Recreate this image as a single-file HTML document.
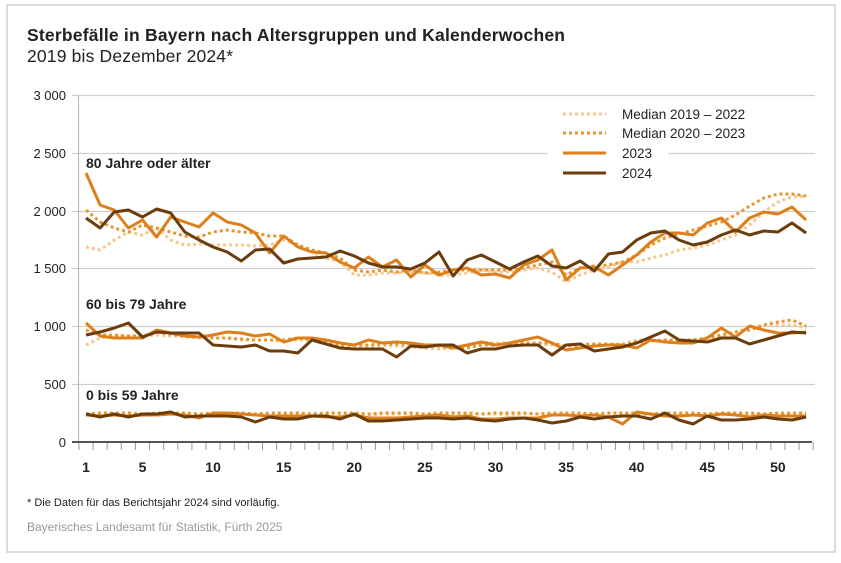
<!DOCTYPE html>
<html><head><meta charset="utf-8"><style>
body{margin:0;background:#fff;width:841px;height:558px;overflow:hidden;font-family:"Liberation Sans",Arial,sans-serif}
</style></head><body>
<svg id="s" width="841" height="558" xmlns="http://www.w3.org/2000/svg" font-family="Liberation Sans, Arial, sans-serif">
<rect x="7" y="5" width="828" height="547" fill="#fff" stroke="#d0d0d0" stroke-width="1.5"/>
<text x="27" y="41" font-size="17.5" font-weight="bold" fill="#222" textLength="538" lengthAdjust="spacing">Sterbefälle in Bayern nach Altersgruppen und Kalenderwochen</text>
<text x="27" y="62" font-size="17.5" fill="#222" textLength="206" lengthAdjust="spacing">2019 bis Dezember 2024*</text>
<g id="grid" stroke="#cfcfcf" stroke-width="1.2"></g>
<rect x="548" y="100" width="120" height="84" fill="#fff"/>
<g id="ylab" font-size="13" fill="#222" text-anchor="end"></g>
<g id="xt" stroke="#999" stroke-width="1"></g>
<line x1="78.5" y1="95" x2="78.5" y2="442" stroke="#bbb" stroke-width="1.2"/>
<line x1="72" y1="442" x2="812" y2="442" stroke="#555" stroke-width="2"/>
<g id="xlab" font-size="14" font-weight="bold" fill="#222" text-anchor="middle"></g>
<g id="lines" fill="none" stroke-linejoin="round"></g>
<text x="86" y="168" font-size="14" font-weight="bold" fill="#222">80 Jahre oder älter</text>
<text x="86" y="309" font-size="14" font-weight="bold" fill="#222">60 bis 79 Jahre</text>
<text x="86" y="400" font-size="14" font-weight="bold" fill="#222">0 bis 59 Jahre</text>
<g font-size="13.5" fill="#222">
<line x1="563" y1="114" x2="606" y2="114" stroke="#f5c890" stroke-width="3" stroke-dasharray="3,3"/>
<text x="622" y="119">Median 2019 – 2022</text>
<line x1="563" y1="133" x2="606" y2="133" stroke="#e8962e" stroke-width="3" stroke-dasharray="3,3"/>
<text x="622" y="138">Median 2020 – 2023</text>
<line x1="563" y1="153" x2="606" y2="153" stroke="#dd7f1a" stroke-width="3"/>
<text x="622" y="158">2023</text>
<line x1="563" y1="173" x2="606" y2="173" stroke="#6b3d0c" stroke-width="3"/>
<text x="622" y="178">2024</text>
</g>
<text x="27" y="506" font-size="11" fill="#222">* Die Daten für das Berichtsjahr 2024 sind vorläufig.</text>
<text x="27" y="531" font-size="12" fill="#999">Bayerisches Landesamt für Statistik, Fürth 2025</text>
</svg>
<script>
var NS="http://www.w3.org/2000/svg";
function el(p,t,a,txt){var e=document.createElementNS(NS,t);for(var k in a)e.setAttribute(k,a[k]);if(txt)e.textContent=txt;document.getElementById(p).appendChild(e);}
var ys=[95,153,211,268,326,384],lb=["3 000","2 500","2 000","1 500","1 000","500"];
for(var i=0;i<6;i++){el("grid","line",{x1:72,y1:ys[i]+.5,x2:815,y2:ys[i]+.5});el("ylab","text",{x:66,y:ys[i]+5},lb[i]);}
el("ylab","text",{x:66,y:447},"0");
function X(w){return 86+(w-1)*14.12;}
for(var w=0;w<=52;w++){var x=X(w+0.5);el("xt","line",{x1:x,y1:442,x2:x,y2:450});}
[1,5,10,15,20,25,30,35,40,45,50].forEach(function(w){el("xlab","text",{x:X(w),y:472},w);});
var S={
a23:[173,205,210,228,220,237,217,222,227,213,222,225,233,253,236,247,252,253,262,268,257,267,260,277,265,275,270,268,275,274,278,265,260,250,280,268,267,275,265,255,242,233,233,235,223,218,232,218,212,214,207,220],
a24:[218,228,212,210,217,209,213,232,240,247,252,261,250,249,263,259,258,257,251,256,263,267,267,269,263,252,276,260,255,262,269,262,256,266,268,261,271,254,252,240,233,231,240,245,242,235,230,235,231,232,223,233],
am2:[210,222,228,232,225,228,232,236,237,232,230,232,233,236,236,245,250,253,258,270,272,270,272,270,273,272,270,270,270,270,270,268,265,262,275,268,266,265,262,255,245,238,234,230,226,222,215,206,198,194,194,196],
am1:[247,250,240,232,235,228,240,245,244,245,245,245,246,245,240,245,252,258,262,275,275,273,273,272,273,275,275,273,270,272,272,270,268,272,282,275,270,267,262,262,258,255,250,248,245,240,235,225,212,202,197,196],
b23:[323,336,338,338,338,330,333,336,337,335,332,333,336,334,342,338,338,340,343,345,340,343,342,343,345,345,348,345,342,345,343,340,337,343,350,348,346,345,345,348,340,342,343,343,338,328,337,326,330,333,333,332],
b24:[335,332,328,323,337,332,333,333,333,345,346,347,345,351,351,353,340,344,348,349,349,349,357,346,347,345,345,353,349,349,346,345,345,355,345,344,351,349,347,343,337,331,340,341,342,338,338,344,340,336,332,333],
bm2:[330,335,335,336,336,332,334,336,337,338,338,339,340,340,340,338,340,342,345,345,345,344,344,344,346,346,348,348,345,345,343,343,343,343,346,345,344,344,345,342,341,340,340,340,338,335,332,330,325,322,320,326],
bm1:[345,338,336,336,336,335,336,337,338,338,338,340,340,340,341,340,340,343,346,347,346,346,346,347,348,349,348,345,342,343,343,343,344,345,346,344,344,345,344,340,340,341,340,340,338,336,332,328,325,325,325,328],
c24:[414,417,414,417,414,414,412,417,416,416,416,417,422,417,419,419,416,416,419,414,421,421,420,419,418,418,419,418,420,421,419,418,420,423,421,417,419,417,416,416,419,413,420,424,416,420,420,419,417,419,420,417],
c23:[415,416,415,416,415,415,414,415,418,413,413,414,415,416,416,416,416,417,417,415,418,418,418,417,416,415,417,416,419,419,418,418,418,415,415,416,415,417,424,412,414,416,416,415,416,414,415,417,415,416,416,416]
};
S.cm1=S.c23.map(function(v,i){return 414+(i%5==0?1:0);});
S.cm2=S.c23.map(function(v,i){return 413+(i%4==0?1:0);});
function draw(k,col,dash){var p=S[k].map(function(y,i){return X(i+1).toFixed(1)+","+y;}).join(" ");var a={points:p,stroke:col,"stroke-width":3};if(dash)a["stroke-dasharray"]="3,3";el("lines","polyline",a);}
["a","b","c"].forEach(function(g){draw(g+"m1","#f5c890",1);draw(g+"m2","#e8962e",1);draw(g+"23","#dd7f1a");draw(g+"24","#6b3d0c");});
</script>
</body></html>
